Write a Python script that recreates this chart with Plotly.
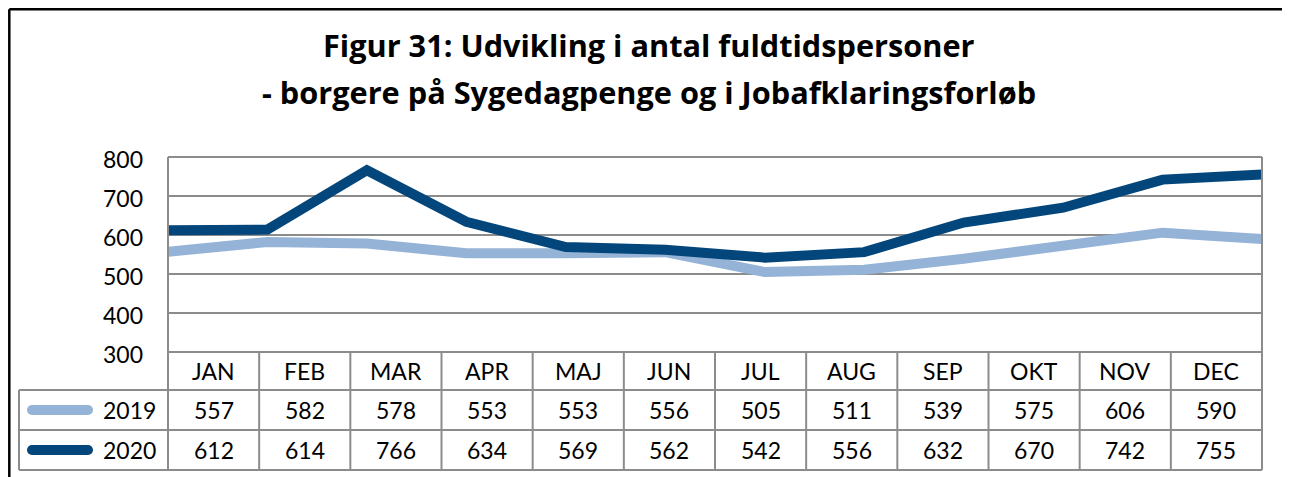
import plotly.graph_objects as go

# ---- data ----
months = ["JAN", "FEB", "MAR", "APR", "MAJ", "JUN", "JUL", "AUG", "SEP", "OKT", "NOV", "DEC"]
series_names = ["2019", "2020"]
values_2019 = [557, 582, 578, 553, 553, 556, 505, 511, 539, 575, 606, 590]
values_2020 = [612, 614, 766, 634, 569, 562, 542, 556, 632, 670, 742, 755]
y_ticks = [300, 400, 500, 600, 700, 800]
title_line1 = "Figur 31: Udvikling i antal fuldtidspersoner"
title_line2 = "- borgere på Sygedagpenge og i Jobafklaringsforløb"

# ---- layout constants (screen pixels) ----
W, H = 1290, 477
OFF = 8  # page body margin
PL, PR, PT, PB = 168, 1262, 157, 352
ROW_EDGES = [352, 390, 430, 470]
LEG_LEFT = 19
COLORS = ["#95B3D7", "#03467B"]
GRID = "#8C8C8C"
FONT = "Lato"
TFONT = "Open Sans"
FS = 23

series = [values_2019, values_2020]

fig = go.Figure()

# main lines
for name, vals, col in zip(series_names, series, COLORS):
    fig.add_trace(go.Scatter(
        x=list(range(len(months))), y=vals, mode="lines", name=name,
        line=dict(color=col, width=10), xaxis="x", yaxis="y",
        showlegend=False, hoverinfo="skip"))

# legend keys in pixel overlay
for i, (name, col) in enumerate(zip(series_names, COLORS)):
    yc = (ROW_EDGES[i + 1] + ROW_EDGES[i + 2]) / 2
    fig.add_trace(go.Scatter(
        x=[LEG_LEFT + 13, LEG_LEFT + 69], y=[yc, yc], mode="lines+markers",
        line=dict(color=col, width=10), marker=dict(color=col, size=10),
        xaxis="x2", yaxis="y2", showlegend=False, hoverinfo="skip"))

shapes = []
def ln(x0, y0, x1, y1, color=GRID, w=2):
    shapes.append(dict(type="line", xref="x2", yref="y2", x0=x0, y0=y0, x1=x1, y1=y1,
                       line=dict(color=color, width=w)))

n = len(months)
colw = (PR - PL) / n
# plot + table borders
ln(PL, PT, PR, PT)
ln(PL, PT, PL, ROW_EDGES[-1])
ln(PR, PT, PR, ROW_EDGES[-1])
ln(PL, ROW_EDGES[0], PR, ROW_EDGES[0])
for ye in ROW_EDGES[1:]:
    ln(LEG_LEFT, ye, PR, ye)
ln(LEG_LEFT, ROW_EDGES[1], LEG_LEFT, ROW_EDGES[-1])
for k in range(1, n):
    xk = PL + k * colw
    ln(xk, ROW_EDGES[0], xk, ROW_EDGES[-1])

# outer chart border (top & left visible) – at the figure's own edge
bx, by = 1.3 / W, 1 - 1.3 / H
shapes.append(dict(type="line", xref="paper", yref="paper", x0=bx, y0=by, x1=1.05, y1=by,
                   line=dict(color="black", width=2.5)))
shapes.append(dict(type="line", xref="paper", yref="paper", x0=bx, y0=by, x1=bx, y1=-0.05,
                   line=dict(color="black", width=2.5)))

annotations = []
def txt(x, y, s, anchor="center", size=FS, bold=False, family=FONT):
    annotations.append(dict(xref="x2", yref="y2", x=x, y=y, text=f"<b>{s}</b>" if bold else s,
                            showarrow=False, xanchor=anchor, yanchor="middle",
                            font=dict(family=family, size=size, color="black")))

for i, m in enumerate(months):
    xc = PL + (i + 0.5) * colw
    txt(xc, (ROW_EDGES[0] + ROW_EDGES[1]) / 2, m)
    for r, vals in enumerate(series):
        txt(xc, (ROW_EDGES[r + 1] + ROW_EDGES[r + 2]) / 2, str(vals[i]))
for r, name in enumerate(series_names):
    txt(LEG_LEFT + 82, (ROW_EDGES[r + 1] + ROW_EDGES[r + 2]) / 2, name, anchor="left")

txt(649, 45, title_line1, size=30.7, bold=True, family=TFONT)
txt(649, 92, title_line2, size=30.7, bold=True, family=TFONT)

fig.update_layout(
    width=W, height=H, margin=dict(l=0, r=0, t=0, b=0, pad=0, autoexpand=False),
    paper_bgcolor="white", plot_bgcolor="rgba(0,0,0,0)",
    showlegend=False,
    xaxis=dict(domain=[(PL - OFF) / W, (PR - OFF) / W], range=[0, n - 1], visible=False, anchor="y"),
    yaxis=dict(domain=[1 - (PB - OFF) / H, 1 - (PT - OFF) / H], range=[y_ticks[0], y_ticks[-1]],
               tickvals=y_ticks, showgrid=True, gridcolor=GRID, gridwidth=2,
               zeroline=False, showline=False, ticks="", ticklabelstandoff=24,
               ticklabelshift=3, automargin=False,
               tickfont=dict(family=FONT, size=FS, color="black"), anchor="x"),
    xaxis2=dict(domain=[0, 1], range=[OFF, W + OFF], visible=False, anchor="y2", fixedrange=True),
    yaxis2=dict(domain=[0, 1], range=[H + OFF, OFF], visible=False, anchor="x2", fixedrange=True),
    shapes=shapes, annotations=annotations,
)

fig.write_html("out.html")
